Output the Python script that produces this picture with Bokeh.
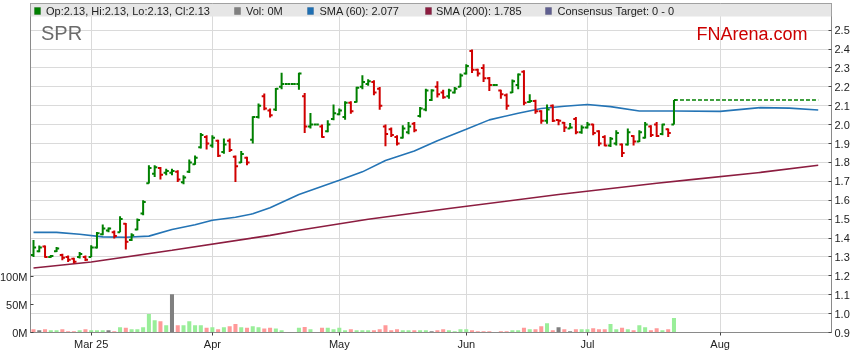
import numpy as np
import pandas as pd
from bokeh.plotting import figure
from bokeh.models import (Range1d, LinearAxis, FixedTicker, PrintfTickFormatter,
                          BoxAnnotation, Label, ColumnDataSource)
from bokeh.embed import file_html
from bokeh.resources import INLINE

# ---------------- data ----------------
ticker_name = "SPR"
site_name = "FNArena.com"
start_date = "2025-02-17"          # first bar (weekday axis)
end_date = "2025-08-28"
prior_close = 1.36

opens = [1.31, 1.33, 1.355, 1.30, 1.33, 1.31, 1.30, 1.29, 1.30, 1.30,
         1.30, 1.35, 1.42, 1.44, 1.43, 1.43, 1.475, 1.39, 1.445, 1.53,
         1.69, 1.74, 1.77, 1.745, 1.745, 1.75, 1.695, 1.75, 1.79, 1.88,
         1.935, 1.89, 1.915, 1.855, 1.915, 1.83, 1.80, 1.825, 1.92, 2.04,
         2.15, 2.075, 2.08, 2.20, 2.215, 2.215, 2.215, 2.15, 1.99, 2.0,
         1.99, 1.965, 2.03, 2.055, 2.04, 2.115, 2.12, 2.20, 2.215, 2.225,
         2.19, 1.99, 1.975, 1.935, 1.93, 1.96, 2.005, 2.045, 2.08, 2.13,
         2.20, 2.17, 2.15, 2.17, 2.20, 2.27, 2.39, 2.29, 2.30, 2.245,
         2.21, 2.18, 2.155, 2.17, 2.21, 2.28, 2.12, 2.125, 2.07, 2.02,
         2.10, 2.025, 2.01, 1.98, 2.03, 1.96, 1.985, 2.0, 1.965, 1.935,
         1.89, 1.90, 1.895, 1.895, 1.94, 1.91, 1.93, 1.99, 2.0, 1.95,
         1.975, 2.0]
highs = [1.39, 1.36, 1.36, 1.31, 1.352, 1.317, 1.308, 1.296, 1.326, 1.308,
         1.361, 1.432, 1.472, 1.455, 1.44, 1.515, 1.479, 1.425, 1.503, 1.60,
         1.785, 1.785, 1.776, 1.767, 1.767, 1.758, 1.732, 1.815, 1.837, 1.955,
         1.943, 1.943, 1.92, 1.926, 1.926, 1.837, 1.86, 1.83, 2.044, 2.111,
         2.164, 2.085, 2.194, 2.275, 2.215, 2.215, 2.275, 2.167, 2.062, 2.0,
         2.0, 2.023, 2.106, 2.085, 2.123, 2.123, 2.2, 2.261, 2.24, 2.234,
         2.199, 2.0, 1.984, 1.943, 1.996, 2.014, 2.014, 2.093, 2.19, 2.187,
         2.229, 2.185, 2.19, 2.199, 2.27, 2.319, 2.397, 2.296, 2.319, 2.252,
         2.21, 2.185, 2.164, 2.238, 2.27, 2.287, 2.16, 2.132, 2.076, 2.106,
         2.106, 2.027, 2.014, 2.008, 2.04, 1.996, 2.014, 2.005, 1.97, 1.943,
         1.934, 1.97, 1.90, 1.979, 1.943, 1.97, 2.014, 1.996, 2.014, 2.005,
         1.979, 2.13]
lows = [1.30, 1.325, 1.295, 1.295, 1.326, 1.282, 1.273, 1.265, 1.291, 1.278,
        1.30, 1.344, 1.414, 1.43, 1.397, 1.43, 1.339, 1.384, 1.441, 1.52,
        1.688, 1.723, 1.709, 1.732, 1.732, 1.696, 1.684, 1.744, 1.788, 1.873,
        1.868, 1.878, 1.829, 1.846, 1.855, 1.696, 1.797, 1.785, 1.90, 2.032,
        2.076, 2.037, 2.072, 2.187, 2.215, 2.215, 2.185, 1.955, 1.979, 2.0,
        1.931, 1.96, 2.023, 2.05, 2.026, 2.058, 2.117, 2.187, 2.205, 2.155,
        2.079, 1.885, 1.934, 1.89, 1.926, 1.949, 1.96, 2.037, 2.07, 2.125,
        2.143, 2.137, 2.137, 2.164, 2.199, 2.265, 2.273, 2.255, 2.225, 2.178,
        2.21, 2.137, 2.079, 2.167, 2.187, 2.102, 2.114, 2.058, 2.005, 2.005,
        2.014, 1.996, 1.961, 1.979, 1.949, 1.952, 1.979, 1.943, 1.885, 1.885,
        1.881, 1.89, 1.829, 1.89, 1.89, 1.908, 1.926, 1.934, 1.935, 1.943,
        1.934, 2.0]
closes = [1.35, 1.35, 1.30, 1.305, 1.345, 1.295, 1.285, 1.275, 1.315, 1.285,
          1.35, 1.425, 1.45, 1.45, 1.41, 1.50, 1.38, 1.415, 1.495, 1.59,
          1.77, 1.775, 1.735, 1.755, 1.755, 1.71, 1.72, 1.80, 1.825, 1.945,
          1.90, 1.93, 1.835, 1.895, 1.865, 1.78, 1.845, 1.80, 2.04, 2.10,
          2.085, 2.05, 2.19, 2.215, 2.215, 2.215, 2.27, 1.99, 2.0, 2.0,
          1.935, 2.0, 2.06, 2.075, 2.115, 2.07, 2.195, 2.225, 2.23, 2.17,
          2.10, 1.95, 1.945, 1.90, 1.98, 1.99, 1.97, 2.085, 2.18, 2.18,
          2.16, 2.145, 2.18, 2.19, 2.26, 2.31, 2.29, 2.27, 2.245, 2.21,
          2.21, 2.16, 2.10, 2.23, 2.265, 2.115, 2.125, 2.07, 2.02, 2.08,
          2.02, 2.02, 1.985, 1.985, 1.96, 1.985, 2.0, 1.955, 1.90, 1.89,
          1.925, 1.955, 1.85, 1.96, 1.91, 1.96, 2.0, 1.945, 1.94, 2.0,
          1.955, 2.13]
volumes_m = [6, 4, 6, 4, 4, 6, 2.4, 2.4, 4, 6,
             4, 4, 4, 4, 2.4, 9.5, 8.3, 6, 6, 9.5,
             33, 22, 20, 13, 68.5, 13, 13, 20, 13, 13,
             8.3, 9.5, 6, 9.5, 11, 15, 9.5, 8.3, 11, 9.5,
             7, 8.3, 7, 4, 0, 0, 8.3, 10, 6, 0,
             8.3, 8.3, 6, 8.3, 4, 6, 4, 4, 4, 4,
             6, 13, 4, 6, 4, 4, 4, 4, 4, 2.4,
             4, 6, 4, 2.4, 6, 6, 4, 2.4, 2.4, 2.4,
             0, 2.4, 2.4, 4, 4, 8.3, 6, 6, 11, 16.7,
             4, 9.5, 6, 2.4, 6, 6, 6, 7.7, 6, 6,
             15, 6, 8.3, 6, 4, 13, 9.5, 4, 7.7, 4,
             6, 26]

# moving averages read at weekday positions (0 = first bar)
sma60_pos = [0, 4, 8, 12, 16, 20, 24, 28, 31, 35, 38, 41, 46, 53, 57, 61, 66, 70,
             75, 79, 84, 88, 92, 96, 100, 105, 111, 119, 126, 131, 136]
sma60_val = [1.430, 1.430, 1.420, 1.406, 1.404, 1.410, 1.445, 1.470, 1.494, 1.510,
             1.528, 1.560, 1.630, 1.705, 1.750, 1.810, 1.860, 1.915, 1.975, 2.025,
             2.060, 2.085, 2.097, 2.106, 2.095, 2.072, 2.072, 2.070, 2.090, 2.087, 2.077]
sma200_pos = [0, 10, 24, 41, 46, 58, 72, 91, 108, 114, 126, 136]
sma200_val = [1.241, 1.273, 1.335, 1.414, 1.441, 1.499, 1.556, 1.630, 1.690, 1.709,
              1.747, 1.785]

month_starts = ["2025-03-03", "2025-04-01", "2025-05-01", "2025-06-02", "2025-07-01", "2025-08-01"]
month_labels = ["Mar 25", "Apr", "May", "Jun", "Jul", "Aug"]
price_ticks = [0.9, 1.0, 1.1, 1.2, 1.3, 1.4, 1.5, 1.6, 1.7, 1.8, 1.9, 2.0, 2.1, 2.2, 2.3, 2.4, 2.5]
vol_ticks = [0, 50, 100]

legend_items = [
    ("Op:2.13, Hi:2.13, Lo:2.13, Cl:2.13", "#008000", "#005000"),
    ("Vol: 0M", "#808080", "#505050"),
    ("SMA (60): 2.077", "#1f6fb2", "#0d4a80"),
    ("SMA (200): 1.785", "#8c1d40", "#5a0f28"),
    ("Consensus Target: 0 - 0", "#5f5f90", "#3a3a60"),
]

# ---------------- derived ----------------
days = pd.bdate_range(start_date, end_date)
n = len(closes)
idx = np.arange(n)
o = np.array(opens); h = np.array(highs); l = np.array(lows); c = np.array(closes)
prev = np.concatenate([[prior_close], c[:-1]])
price_col = np.where(c >= o, "#008000", "#d00000")
vol_col = np.where(np.isclose(c, prev), "#808080", np.where(c > prev, "#99ee99", "#ff9999"))
month_pos = [int(days.get_loc(pd.Timestamp(d))) for d in month_starts]

src = ColumnDataSource(dict(x=idx, o=o, h=h, l=l, c=c, pc=price_col, vc=vol_col,
                            v=np.array(volumes_m, dtype=float),
                            xl=idx - 0.45, xr=idx + 0.45))

# ---------------- layout ----------------
FW, FH = 801, 329
PX_PER_DAY = 5.77
x0 = -3 / PX_PER_DAY
x1 = x0 + FW / PX_PER_DAY
price_lo = 0.9
price_per_px = 1 / 189.0
vol_per_px = 50 / 28.0
FONT = "Liberation Sans"

p = figure(frame_width=FW, frame_height=FH, output_backend="svg", toolbar_location=None,
           x_range=Range1d(x0, x1), y_range=Range1d(price_lo, price_lo + FH * price_per_px),
           x_axis_location="below", y_axis_location="right",
           min_border_left=31, min_border_right=25, min_border_top=3, min_border_bottom=18)
p.styles = {"position": "fixed", "left": "-4px", "top": "0px"}
p.extra_y_ranges = {"vol": Range1d(0, FH * vol_per_px)}
p.background_fill_color = "white"
p.border_fill_color = "white"
p.outline_line_color = "#8a8a8a"
p.outline_line_width = 1


def style_axis(ax):
    ax.minor_tick_line_color = None
    ax.axis_line_color = "#8a8a8a"
    ax.major_tick_line_color = "#444444"
    ax.major_label_text_font = FONT
    ax.major_label_text_font_size = "11px"
    ax.major_label_text_color = "#222222"


# right price axis
ra = p.yaxis[0]
style_axis(ra)
ra.ticker = FixedTicker(ticks=price_ticks)
ra.formatter = PrintfTickFormatter(format="%.1f")
ra.major_tick_in = 3
ra.major_tick_out = 0
ra.major_label_standoff = 3

# left volume axis
la = LinearAxis(y_range_name="vol", ticker=FixedTicker(ticks=vol_ticks),
                formatter=PrintfTickFormatter(format="%dM"))
style_axis(la)
la.major_tick_in = 3
la.major_tick_out = 0
la.major_label_standoff = 3
p.add_layout(la, "left")

# bottom month axis
xa = p.xaxis[0]
style_axis(xa)
xa.ticker = FixedTicker(ticks=month_pos)
xa.major_label_overrides = {pos: lab for pos, lab in zip(month_pos, month_labels)}
xa.major_tick_in = 0
xa.major_tick_out = 3
xa.major_label_standoff = 2

p.xgrid.ticker = FixedTicker(ticks=month_pos)
p.ygrid.ticker = FixedTicker(ticks=price_ticks + [2.6])
p.xgrid.grid_line_color = "#dadada"
p.ygrid.grid_line_color = "#dadada"

# volume
p.vbar(x="x", width=0.7, top="v", bottom=0, y_range_name="vol", source=src,
       fill_color="vc", line_color=None)

# moving averages
p.line(sma200_pos, sma200_val, line_color="#8c1d40", line_width=1.6)
p.line(sma60_pos, sma60_val, line_color="#2474b5", line_width=1.6)

# last price dashed line
p.line([idx[-1], sma60_pos[-1]], [c[-1], c[-1]], line_color="#008000", line_width=1.4, line_dash="4 2")

# OHLC bars
p.segment(x0="x", y0="l", x1="x", y1="h", line_color="pc", line_width=2, source=src)
p.segment(x0="xl", y0="o", x1="x", y1="o", line_color="pc", line_width=2, source=src)
p.segment(x0="x", y0="c", x1="xr", y1="c", line_color="pc", line_width=2, source=src)

# header band and legend
p.add_layout(BoxAnnotation(bottom=FH - 13, bottom_units="screen", fill_color="#e6e6e6",
                           fill_alpha=1, line_alpha=0, level="annotation"))
sq_left = [4, 204, 277, 395, 515]
txt_left = [15.5, 215.5, 289, 405.5, 527]
for (txt, fc, lc), sl, tl in zip(legend_items, sq_left, txt_left):
    p.add_layout(BoxAnnotation(left=sl, right=sl + 6, bottom=FH - 11, top=FH - 4,
                               left_units="screen", right_units="screen",
                               bottom_units="screen", top_units="screen",
                               fill_color=fc, fill_alpha=1, line_color=lc, line_width=1))
    p.add_layout(Label(x=tl, y=FH - 7, x_units="screen", y_units="screen", text=txt,
                       text_font=FONT, text_font_size="11px", text_color="#222222",
                       text_baseline="middle"))

p.add_layout(Label(x=10.5, y=FH - 29.5, x_units="screen", y_units="screen", text=ticker_name,
                   text_font=FONT, text_font_size="20px", text_color="#6b6b6b",
                   text_baseline="middle"))
p.add_layout(Label(x=777, y=FH - 30.3, x_units="screen", y_units="screen", text=site_name,
                   text_font=FONT, text_font_size="18px", text_color="#cc0000",
                   text_baseline="middle", text_align="right"))

open("out.html", "w").write(file_html(p, INLINE))
